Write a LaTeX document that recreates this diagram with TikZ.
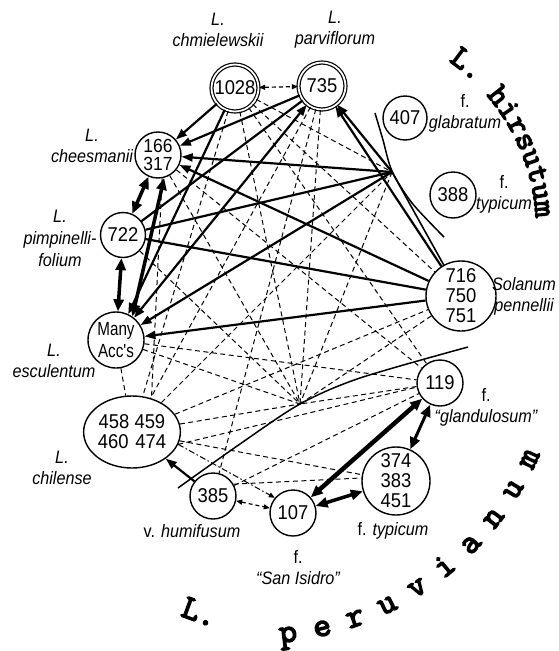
\documentclass[tikz,border=0pt]{standalone}
\usepackage{fontspec}
\setmainfont{Liberation Sans}
\newfontfamily\numf[FakeStretch=0.92]{Liberation Sans}
\newfontfamily\accf[FakeStretch=0.8]{Liberation Sans}
\newfontfamily\labf[FakeStretch=0.9]{Liberation Sans}
\newfontfamily\bigf[FakeBold=4]{lmmono10-regular.otf}
\usetikzlibrary{arrows.meta,decorations.text,shapes.geometric}
\begin{document}
\begin{tikzpicture}[x=1pt,y=-1pt,
  circ/.style={circle, draw, line width=1.4pt, inner sep=0pt, align=center, fill=white, font=\numf\fontsize{20}{20}\selectfont},
  dcirc/.style={circ, double, double distance=1.8pt, line width=1.2pt},
  lab/.style={inner sep=0pt, align=center, font=\labf\itshape\fontsize{18}{21}\selectfont},
  tipH/.tip={Triangle[length=12pt,width=10pt]},
  tipB/.tip={Triangle[length=11pt,width=8pt]},
  tipS/.tip={Triangle[length=6pt,width=5pt]},
  hvy/.style={line width=3.5pt, tipH-tipH},
  bld/.style={line width=2.2pt},
  barr/.style={line width=2.2pt, -tipB},
  barrr/.style={line width=2.2pt, tipB-tipB},
  dsh/.style={line width=1pt, dash pattern=on 5pt off 3.5pt},
  dsharr/.style={line width=1.2pt, dash pattern=on 4pt off 3pt, tipS-tipS},
  dshdot/.style={line width=1pt, dash pattern=on 6pt off 2.5pt on 1.5pt off 2.5pt, -tipS},
  arcl/.style={line width=1.5pt}]
\useasboundingbox (0,0) rectangle (559,651);

% group boundaries
\draw[arcl] plot[smooth] coordinates {(375,113) (383,140) (392,171) (412,203) (444,237)};
\draw[arcl] plot[smooth] coordinates {(178,488) (240,444) (300,404) (360,378) (468,347)};
\coordinate (Ph) at (392,172);
\coordinate (Pp) at (300,404);

% nodes
\node[dcirc, minimum size=47pt] (A) at (235,88) {1028};
\node[dcirc, minimum size=47pt] (B) at (322,86) {735};
\node[circ, minimum size=46pt, font=\numf\fontsize{19}{18}\selectfont] (C) at (158,155) {166\\317};
\node[circ, minimum size=45pt] (D) at (123,235) {722};
\node[circ, minimum size=56pt, font=\accf\fontsize{19}{22}\selectfont] (E) at (116,340) {Many\\Acc's};
\node[circ, ellipse, minimum width=80pt, minimum height=72pt] (F) at (132,432) {458 459\\460\hspace{7pt}474};
\node[circ, minimum size=46pt] (G) at (213,496) {385};
\node[circ, minimum size=46pt] (H) at (293,513) {107};
\node[circ, minimum size=68pt] (I) at (396,481) {374\\383\\451};
\node[circ, minimum size=46pt] (J) at (440,383) {119};
\node[circ, minimum size=70pt] (K) at (461,296) {716\\750\\751};
\node[circ, minimum size=44pt] (L) at (405,118) {407};
\node[circ, minimum size=46pt] (M) at (453,195) {388};

% labels
\node[lab] (lA) at (218,30) {L.\\chmielewskii};
\node[lab] (lB) at (335,30) {L.\\parviflorum};
\node[lab] (lC) at (92,146) {L.\\cheesmanii};
\node[lab, font=\labf\itshape\fontsize{18}{22}\selectfont] (lD) at (60,238) {L.\\pimpinelli-\\folium};
\node[lab] (lE) at (54,361) {L.\\esculentum};
\node[lab] (lF) at (62,468) {L.\\chilense};
\node[lab] (lG) at (192,531) {{\upshape v.} humifusum};
\node[lab] (lH) at (298,568) {{\upshape f.}\\“San Isidro”};
\node[lab] (lI) at (393,531) {{\upshape f.} typicum};
\node[lab] (lJ) at (486,407) {{\upshape f.}\\“glandulosum”};
\node[lab] (lL) at (465,113) {{\upshape f.}\\glabratum};
\node[lab] (lM) at (504,194) {{\upshape f.}\\typicum};
\node[lab] (lK) at (524,296) {Solanum\\pennellii};

% curved group names
\path[decorate, decoration={text along path, text align={fit to path},
  text={|\bigf\fontsize{32}{32}\selectfont|L. hirsutum}}]
  plot[domain=-55:-3, samples=40, variable=\t] ({331+205*cos(\t)}, {229+205*sin(\t)});
\path[decorate, decoration={text along path, text align={fit to path},
  text={|\bigf\fontsize{34}{34}\selectfont|peruvianum}}]
  plot[domain=0:1, samples=50, variable=\s] ({253+312*cos(85-62*\s)}, {332+312*sin(85-62*\s)});
\node[font=\bigf\fontsize{34}{34}\selectfont, rotate=-20, inner sep=0pt] (lPer) at (200,612) {L.};

% dashed connections
\draw[dsharr] (A) -- (B);
\draw[dsharr] (G) -- (H);
\draw[dshdot] (F.-15) -- (H.140);
\draw[dsh] (A) -- (Ph);
\draw[dsh] (A) -- (K);
\draw[dsh] (A) -- (F);
\draw[dsh] (A) -- (Pp);
\draw[dsh] (A) -- (J);
\draw[dsh] (B) -- (F);
\draw[dsh] (B) -- (G);
\draw[dsh] (B) -- (Pp);
\draw[dsh] (C.280) -- (F.60);
\draw[dsh] (C) -- (Pp);
\draw[dsh] (C) -- (J);
\draw[dsh] (D) -- (Pp);
\draw[dsh] (E) -- (F);
\draw[dsh] (E) -- (Pp);
\draw[dsh] (E) -- (J);
\draw[dsh] (F) -- (Ph);
\draw[dsh] (F) -- (K);
\draw[dsh] (F) -- (Pp);
\draw[dsh] (F.-15) -- (J.190);
\draw[dsh] (F) -- (I);
\draw[dsh] (G) -- (J);
\draw[dsh] (G.30) -- (I.175);
\draw[dsh] (K) -- (Pp);
\draw[dsh] (Ph) -- (Pp);
\draw[dsh] (J) -- (Pp);

% solid connections
\draw[barr] (A) -- (C);
\draw[barr] (B) -- (C);
\draw[barr] (Ph) -- (C);
\draw[barr] (K) -- (C);
\draw[barr] (A) -- (E);
\draw[barrr] (B) -- (E);
\draw[bld] (B) -- (D);
\draw[bld] (Ph) -- (D);
\draw[bld] (K) -- (D);
\draw[barr] (Ph) -- (E);
\draw[barr] (K) -- (E);
\draw[barr] (Ph) -- (B);
\draw[barr] (K) -- (B);
\draw[bld, line width=1.6pt] (Ph) -- (K);
\draw[barr] (G) -- (F);

% heavy double arrows
\draw[hvy] (C) -- (D);
\draw[hvy] (C.285) -- (E.55);
\draw[hvy] (D) -- (E);
\draw[hvy] (H) -- (I);
\draw[hvy, line width=4.5pt] (H) -- (J);
\draw[hvy, line width=3pt] (I) -- (J);
\end{tikzpicture}
\end{document}
